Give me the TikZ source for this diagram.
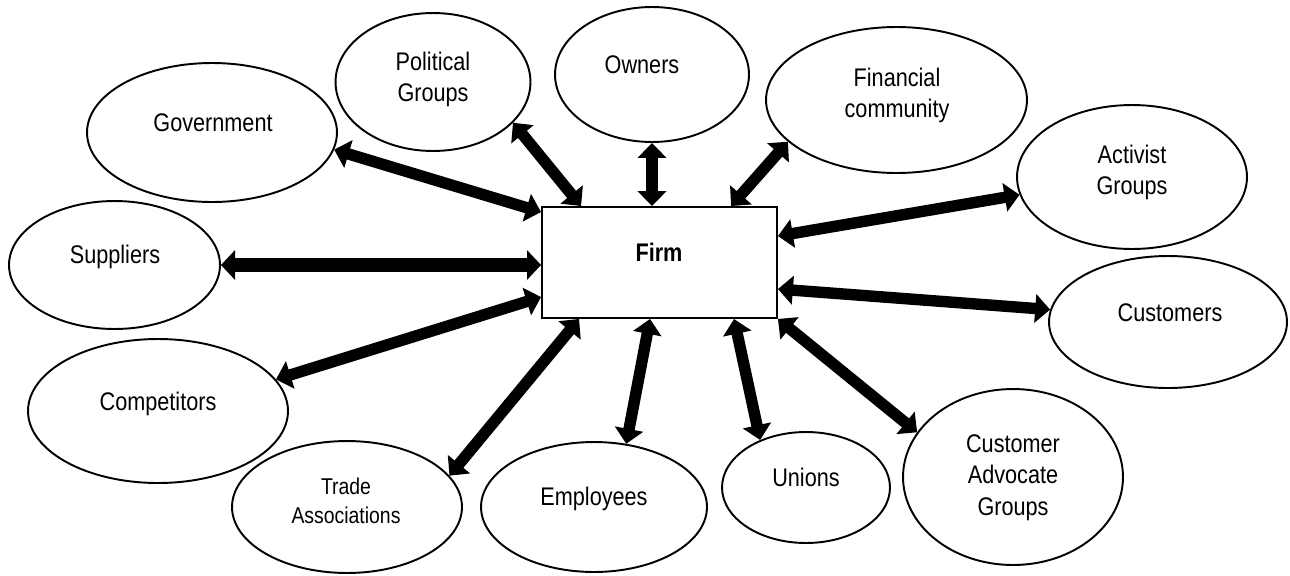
\documentclass[tikz,border=0pt]{standalone}
\usepackage{fontspec}
\setmainfont{Liberation Sans}[FakeStretch=0.85]
\usetikzlibrary{shapes.geometric,arrows.meta,calc}
\tikzset{
  party/.style={draw=black, line width=1.1pt, ellipse, inner sep=0pt, fill=white},
  firmbox/.style={draw=black, line width=1.1pt, rectangle, inner sep=0pt, minimum width=4.7cm, minimum height=2.22cm},
  lbl/.style={text width=6cm, align=center, anchor=base, inner sep=0pt, font=\fontsize{14.5pt}{18.1pt}\selectfont},
  smalllbl/.style={lbl, font=\fontsize{13pt}{17pt}\selectfont},
  conn/.style={line width=6.5pt, <->, >={Triangle[length=8.5pt,width=16pt]}},
  bigconn/.style={line width=7.5pt, <->, >={Triangle[length=8pt,width=16.5pt]}}
}
\begin{document}
\begin{tikzpicture}[x=0.02cm, y=-0.02cm]
\useasboundingbox (0,0) rectangle (1290,575);
% ellipses
\node[party, minimum width=5.00cm, minimum height=2.78cm] (gov) at (212,132.5) {};
\node[party, minimum width=3.90cm, minimum height=2.76cm] (pol) at (433,82) {};
\node[party, minimum width=3.88cm, minimum height=2.70cm] (own) at (652,74.5) {};
\node[party, minimum width=5.22cm, minimum height=2.92cm] (fin) at (896.5,100) {};
\node[party, minimum width=4.60cm, minimum height=2.88cm] (act) at (1132,177) {};
\node[party, minimum width=4.22cm, minimum height=2.56cm] (sup) at (114.5,265) {};
\node[party, minimum width=4.76cm, minimum height=2.64cm] (cus) at (1168,322) {};
\node[party, minimum width=5.20cm, minimum height=2.88cm] (com) at (158,411) {};
\node[party, minimum width=4.60cm, minimum height=2.64cm] (tra) at (347,507) {};
\node[party, minimum width=4.52cm, minimum height=2.60cm] (emp) at (594,507) {};
\node[party, minimum width=3.36cm, minimum height=2.22cm] (uni) at (806,487.5) {};
\node[party, minimum width=4.40cm, minimum height=3.52cm] (ca) at (1013,477) {};
% firm
\node[firmbox] (firm) at (659.5,262.5) {};
% labels
\node[lbl] (govT) at (213,131) {Government};
\node[lbl] (polT) at (433,70) {Political\\Groups};
\node[lbl] (ownT) at (642,73) {Owners};
\node[lbl] (finT) at (897,86) {Financial\\community};
\node[lbl] (actT) at (1132,163) {Activist\\Groups};
\node[lbl] (supT) at (115,263) {Suppliers};
\node[lbl, font=\fontsize{14.5pt}{18.1pt}\selectfont\bfseries] (firmT) at (659,261) {Firm};
\node[lbl] (cusT) at (1170,321) {Customers};
\node[lbl] (comT) at (158,410) {Competitors};
\node[smalllbl] (traT) at (346,494) {Trade\\Associations};
\node[lbl] (empT) at (594,505) {Employees};
\node[lbl] (uniT) at (806,486) {Unions};
\node[lbl] (caT) at (1013,452) {Customer\\Advocate\\Groups};
% connectors
\draw[conn] ($(firm.north west)+(0,6)$) -- (gov.-8);
\draw[conn] ($(firm.north west)+(40,0)$) -- (pol.-27);
\draw[conn] (own.south) -- (own.south |- firm.north);
\draw[conn] ($(firm.north west)+(190,0)$) -- (fin.-159);
\draw[conn] ($(firm.north east)+(0,30)$) -- (act.189);
\draw[bigconn] (sup.east) -- (sup.east -| firm.west);
\draw[conn] ($(firm.north east)+(0,83)$) -- (cus.174);
\draw[conn] ($(firm.north west)+(0,91)$) -- (com.15.6);
\draw[conn] ($(firm.south west)+(38,0)$) -- (tra.17);
\draw[conn] ($(firm.south west)+(109,0)$) -- (emp.63);
\draw[conn] ($(firm.south west)+(193,0)$) -- (uni.134);
\draw[conn] (firm.south east) -- (ca.155);
\end{tikzpicture}
\end{document}
